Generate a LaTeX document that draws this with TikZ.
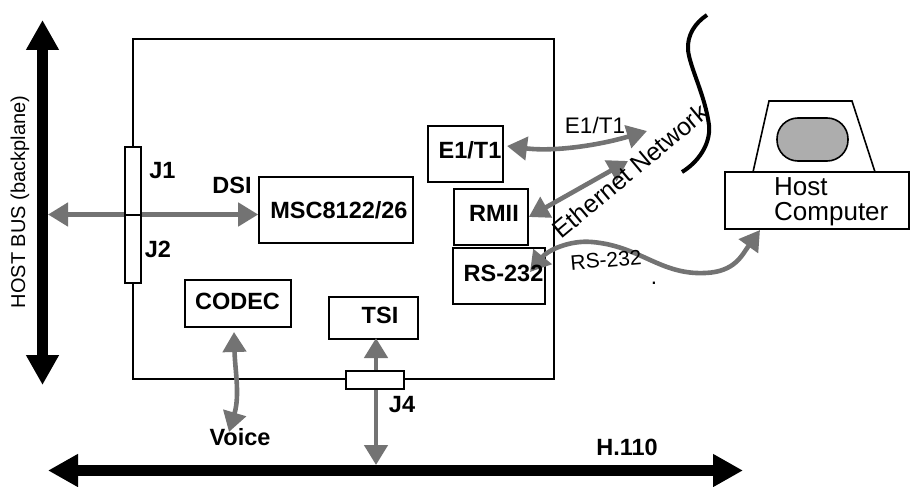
\documentclass[tikz,border=0pt]{standalone}
\usepackage{fontspec}
\setmainfont{Liberation Sans}
\usetikzlibrary{arrows.meta}
\tikzset{
  boxa/.style={draw=black,line width=1.6pt,fill=white,inner sep=0pt,anchor=center},
  plainbox/.style={draw=black,line width=1.6pt,inner sep=0pt,anchor=center},
  bold/.style={inner sep=0pt,font=\fontsize{23.5}{25}\selectfont\bfseries},
  reg/.style={inner sep=0pt,font=\fontsize{22.5}{25}\selectfont},
  bus/.style={line width=11pt,black,{Triangle[length=30pt,width=31pt]}-{Triangle[length=30pt,width=31pt]}},
  hatch/.style={line width=4.6pt,black!55,{Triangle[length=20pt,width=23pt]}-{Triangle[length=20pt,width=23pt]}},
}
\begin{document}
\begin{tikzpicture}[x=1pt,y=-1pt]
\useasboundingbox (0,0) rectangle (913,487);
% board
\node[plainbox,minimum width=421pt,minimum height=340pt] (board) at (343.5,209) {};
% buses
\coordinate (bustop) at (42.5,20);
\coordinate (busbot) at (42.5,385);
\coordinate (hleft) at (48,470.5);
\coordinate (hright) at (743,470.5);
\draw[bus] (bustop) -- (busbot);
\draw[bus] (hleft) -- (hright);
\node[inner sep=0pt,rotate=90,font=\fontsize{20}{22}\selectfont] (hostlabel) at (20,202) {HOST BUS (backplane)};
% inner boxes
\node[boxa,minimum width=154pt,minimum height=66pt] (msc) at (336,210) {};
\node[boxa,minimum width=106pt,minimum height=47pt] (codec) at (238,303.5) {};
\node[boxa,minimum width=89pt,minimum height=42pt] (tsi) at (373.5,318) {};
\node[boxa,minimum width=75pt,minimum height=56pt] (e1box) at (465.5,154) {};
\node[boxa,minimum width=74pt,minimum height=56pt] (rmii) at (491,217) {};
\node[boxa,minimum width=92pt,minimum height=56pt] (rs) at (499,276) {};
% host computer
\coordinate (m1) at (753,172);
\coordinate (m2) at (769,101);
\coordinate (m3) at (852,101);
\coordinate (m4) at (875,172);
\draw[line width=1.6pt,line join=miter] (m1) -- (m2) -- (m3) -- (m4);
\node[draw=black,line width=1.6pt,fill=black!32,rounded corners=21pt,minimum width=71pt,minimum height=43pt,inner sep=0pt] (screen) at (812.5,139.5) {};
\node[draw=black,line width=2.6pt,fill=white,minimum width=184pt,minimum height=57pt,inner sep=0pt] (host) at (817,200.5) {};
\node[reg,anchor=base west,font=\fontsize{26}{25}\selectfont] (hosttxt) at (774,195) {Host};
\node[reg,anchor=base west,font=\fontsize{26}{25}\selectfont] (comptxt) at (774,220) {Computer};
% network curve
\coordinate (n1) at (707,15);
\coordinate (n2) at (682,172);
\draw[line width=4pt] (n1) .. controls (695,23) and (687,35) .. (688,50)
   .. controls (690,68) and (705,95) .. (709,125)
   .. controls (711,145) and (697,163) .. (n2);
% connectors
\coordinate (dsil) at (48,214.5);
\coordinate (e1r) at (647,131);
\coordinate (ethr) at (628,161);
\coordinate (rsr) at (760,230);
\coordinate (voice) at (229,432);
\coordinate (codect) at (234,332);
\coordinate (tsib) at (376,338);
\coordinate (hmid) at (376,465);
\draw[hatch] (dsil) -- (dsil -| msc.west);
\draw[hatch] (507,146) .. controls (555,152) and (600,145) .. (e1r);
\draw[hatch] (rmii.east) -- (ethr);
\draw[hatch] (530,272) .. controls (548,250) and (570,240) .. (592,242)
   .. controls (640,246) and (660,275) .. (705,273)
   .. controls (735,272) and (742,255) .. (rsr);
\draw[hatch] (codect) .. controls (235,370) and (240,395) .. (voice);
\draw[hatch] (tsib) -- (hmid);
% connectors' boxes on top
\node[boxa,minimum width=16pt,minimum height=68pt] (j1) at (133,181) {};
\node[boxa,minimum width=16pt,minimum height=68pt] (j2) at (133,249) {};
\node[boxa,minimum width=58pt,minimum height=18pt] (j4) at (375,380) {};
% bold labels
\node[bold] (j1t) at (162.5,171) {J1};
\node[bold] (j2t) at (158,249.5) {J2};
\node[bold] (dsit) at (232,185) {DSI};
\node[bold] (msct) at (339,210) {MSC8122/26};
\node[bold] (codect2) at (237.5,301) {CODEC};
\node[bold] (tsit) at (380,315) {TSI};
\node[bold] (j4t) at (402,405) {J4};
\node[bold] (voicet) at (240,437) {Voice};
\node[bold] (h110) at (627,447) {H.110};
\node[bold] (e1t) at (470,150) {E1/T1};
\node[bold] (rmiit) at (494,213) {RMII};
\node[bold] (rst) at (503.5,273.5) {RS-232};
% regular labels
\node[reg] (e1lab) at (595,125.5) {E1/T1};
\node[reg,font=\fontsize{21}{25}\selectfont,rotate=5] (rslab) at (606,260) {RS-232};
\node[reg,font=\fontsize{25}{25}\selectfont,rotate=40] (eth) at (630,171) {Ethernet Network};
\node[reg,anchor=base] (dot) at (654,284) {.};
\end{tikzpicture}
\end{document}
